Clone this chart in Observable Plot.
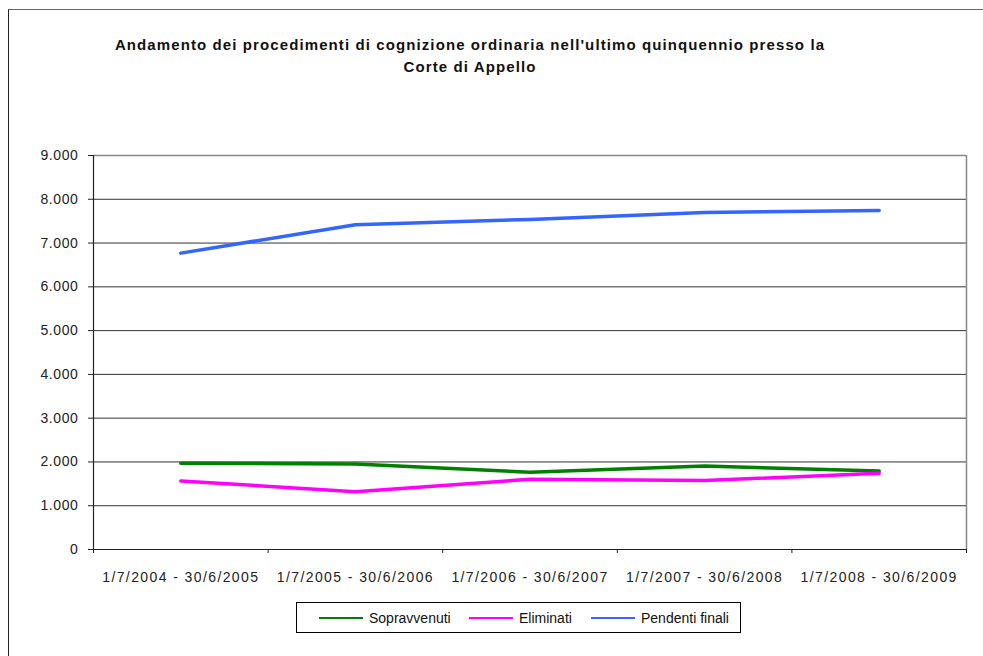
<!DOCTYPE html>
<html><head><meta charset="utf-8">
<script src="https://cdn.jsdelivr.net/npm/d3@7"></script>
<script src="https://cdn.jsdelivr.net/npm/@observablehq/plot@0.6"></script>
<style>
body{margin:0;background:#fff;font-family:"Liberation Sans",Arial,sans-serif;}
#wrap{position:relative;width:983px;height:656px;overflow:hidden;background:#fff;}
#frame{position:absolute;left:8px;top:9px;width:990px;height:660px;border-left:1px solid #222;border-top:1px solid #666;}
#title{position:absolute;left:0;top:34px;width:940px;text-align:center;font-weight:bold;font-size:15px;letter-spacing:1.1px;line-height:22px;color:#111;}
#chart{position:absolute;left:0;top:110px;}
#chart g[aria-label="x-axis tick label"] text{letter-spacing:1.4px;}
#chart g[aria-label="y-axis tick label"] text{letter-spacing:0.6px;}
#legend{position:absolute;left:296px;top:602px;width:443px;height:29px;border:1px solid #000;font-size:14px;color:#111;}
.item{position:absolute;top:0;height:29px;display:flex;align-items:center;}
.sw{display:inline-block;width:44px;height:0;border-top:2px solid;margin-right:6px;}
</style></head><body>
<div id="wrap">
  <div id="frame"></div>
  <div id="title">Andamento dei procedimenti di cognizione ordinaria nell'ultimo quinquennio presso la<br>Corte di Appello</div>
  <div id="chart"></div>
  <div id="legend"></div>
</div>
<script>
const periods = ["1/7/2004 - 30/6/2005", "1/7/2005 - 30/6/2006", "1/7/2006 - 30/6/2007", "1/7/2007 - 30/6/2008", "1/7/2008 - 30/6/2009"];
const seriesNames = ["Sopravvenuti", "Eliminati", "Pendenti finali"];
const sopravvenuti = [1970, 1955, 1765, 1905, 1795];
const eliminati = [1565, 1320, 1605, 1575, 1740];
const pendenti = [6770, 7420, 7540, 7700, 7745];
const yTicks = [0, 1000, 2000, 3000, 4000, 5000, 6000, 7000, 8000, 9000];
const seriesColors = ["#008000", "#ff00ff", "#3366ff"];

const seriesValues = [sopravvenuti, eliminati, pendenti];
const data = [];
seriesNames.forEach((s, si) => periods.forEach((p, i) => data.push({series: s, idx: i + 0.5, period: p, value: seriesValues[si][i]})));

const it = d3.formatLocale({decimal: ",", thousands: ".", grouping: [3], currency: ["€", ""]});
const fmt = it.format(",d");

const chart = Plot.plot({
  width: 983,
  height: 490,
  marginTop: 45,
  marginLeft: 93,
  marginRight: 17,
  marginBottom: 51,
  style: {fontFamily: "'Liberation Sans', Arial, sans-serif", color: "#222", background: "transparent"},
  x: {type: "linear", domain: [0, periods.length]},
  y: {domain: [0, 9000]},
  color: {domain: seriesNames, range: seriesColors},
  marks: [
    Plot.gridY({ticks: yTicks.filter(d => d > 0 && d < 9000), stroke: "#333", strokeOpacity: 1}),
    Plot.ruleY([9000], {stroke: "#888", strokeWidth: 1.5}),
    Plot.ruleX([periods.length], {stroke: "#888", strokeWidth: 1.5}),
    Plot.axisY({ticks: yTicks, tickSize: 5, tickPadding: 10, tickFormat: fmt, fontSize: 14, stroke: "#222", label: null}),
    Plot.axisX({ticks: d3.range(0, periods.length + 1), tickSize: 4, tickFormat: () => "", stroke: "#222", label: null}),
    Plot.axisX({ticks: d3.range(periods.length).map(i => i + 0.5), tickSize: 0, tickPadding: 23, tickFormat: d => periods[Math.floor(d)], fontSize: 14, label: null}),
    Plot.ruleY([0], {stroke: "#222", strokeWidth: 1.2}),
    Plot.ruleX([0], {stroke: "#222", strokeWidth: 1.2}),
    Plot.line(data, {x: "idx", y: "value", z: "series", stroke: "series", strokeWidth: 3.5, strokeLinejoin: "round", strokeLinecap: "round"})
  ]
});
document.getElementById("chart").appendChild(chart);

const legend = document.getElementById("legend");
const lefts = [22, 172, 294];
seriesNames.forEach((s, i) => {
  const d = document.createElement("div");
  d.className = "item";
  d.style.left = lefts[i] + "px";
  d.innerHTML = `<span class="sw" style="border-color:${seriesColors[i]}"></span><span>${s}</span>`;
  legend.appendChild(d);
});
</script>
</body></html>
